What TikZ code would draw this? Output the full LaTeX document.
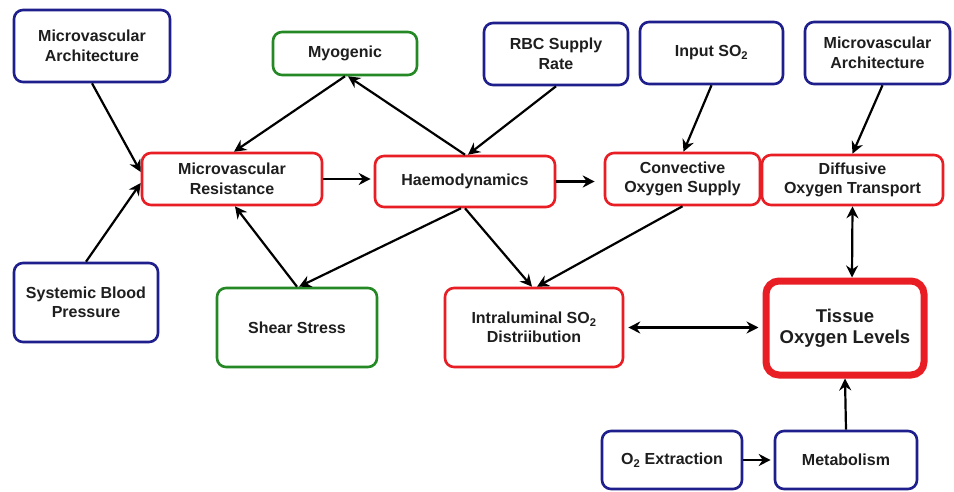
\documentclass[tikz,border=0pt]{standalone}
\usepackage{fontspec}
\setmainfont{Liberation Sans}
\usetikzlibrary{arrows.meta}
\definecolor{bnavy}{RGB}{30,30,140}
\definecolor{bgreen}{RGB}{36,136,36}
\definecolor{bred}{RGB}{232,30,36}
\definecolor{txt}{RGB}{30,30,30}
\tikzset{
  box/.style={draw, rounded corners=9pt, line width=2.6pt, fill=white, align=center,
    font=\bfseries\fontsize{16}{19.5}\selectfont, text=txt, inner sep=0pt},
  bluebox/.style={box, draw=bnavy},
  greenbox/.style={box, draw=bgreen},
  redbox/.style={box, draw=bred},
  bigbox/.style={box, draw=bred, line width=7pt, rounded corners=13pt,
    font=\bfseries\fontsize{18.5}{21}\selectfont},
  tip/.tip={Stealth[length=12pt,width=12pt,inset=4pt]},
  arr/.style={line width=2.2pt, draw=black, -tip},
  darr/.style={line width=2.2pt, draw=black, tip-tip},
}
\begin{document}
\begin{tikzpicture}[x=1pt,y=-1pt]
\useasboundingbox (0,0) rectangle (954,492);
\fill[white] (0,0) rectangle (954,492);

\node[bluebox, minimum width=156pt, minimum height=72pt] (mal) at (92,46) {Microvascular\\Architecture};
\node[greenbox, minimum width=144pt, minimum height=43pt] (myo) at (345,53.5) {Myogenic};
\node[redbox, minimum width=180pt, minimum height=52pt] (mr) at (232,179) {Microvascular\\Resistance};
\node[redbox, minimum width=180pt, minimum height=51pt] (hae) at (465,181.5) {Haemodynamics};
\node[bluebox, minimum width=144pt, minimum height=62pt] (rbc) at (556,54) {RBC Supply\\Rate};
\node[bluebox, minimum width=143pt, minimum height=62pt] (inp) at (711.5,53) {Input SO\textsubscript{2}};
\node[bluebox, minimum width=145pt, minimum height=62pt] (mar) at (877.5,53) {Microvascular\\Architecture};
\node[redbox, minimum width=155pt, minimum height=52pt] (conv) at (682.5,179) {Convective\\Oxygen Supply};
\node[redbox, minimum width=181pt, minimum height=50pt] (diff) at (852.5,180) {Diffusive\\Oxygen Transport};
\node[bluebox, minimum width=144pt, minimum height=79pt] (sbp) at (86,302.5) {Systemic Blood\\Pressure};
\node[greenbox, minimum width=160pt, minimum height=79pt] (shear) at (297,327.5) {Shear Stress};
\node[redbox, minimum width=178pt, minimum height=79pt] (intra) at (534,327.5) {Intraluminal SO\textsubscript{2}\\Distriibution};
\node[bigbox, minimum width=158pt, minimum height=94pt] (tissue) at (845,328) {Tissue\\Oxygen Levels};
\node[bluebox, minimum width=140pt, minimum height=58pt] (o2x) at (672,460) {O\textsubscript{2} Extraction};
\node[bluebox, minimum width=142pt, minimum height=58pt] (met) at (846,460) {Metabolism};

\draw[arr] (mal.south) -- ([yshift=7pt]mr.west);
\draw[arr] (sbp.north) -- ([yshift=-4pt]mr.west);
\draw[arr] (myo.south) -- ([xshift=2pt]mr.north);
\draw[arr] (hae.north) -- ([xshift=3pt]myo.south);
\draw[arr] (rbc.south) -- ([xshift=3pt]hae.north);
\draw[arr, shorten >=3pt] (mr.east) -- (mr.east -| hae.west);
\draw[arr, shorten >=9pt] (hae.east) -- (hae.east -| conv.west);
\draw[arr] (inp.south) -- ([xshift=1pt]conv.north);
\draw[arr] ([xshift=5pt]mar.south) -- (diff.north);
\draw[arr] (shear.north) -- ([xshift=3pt]mr.south);
\draw[arr] ([xshift=-4pt]hae.south) -- ([xshift=2pt]shear.north);
\draw[arr] (hae.south) -- ([xshift=-2pt]intra.north);
\draw[arr] (conv.south) -- ([xshift=3pt]intra.north);
\draw[darr] (diff.south) -- ([xshift=7pt]tissue.north);
\draw[darr, shorten <=4pt, shorten >=4pt] (intra.east) -- (intra.east -| tissue.west);
\draw[arr, shorten >=3pt] (o2x.east) -- (o2x.east -| met.west);
\draw[arr] (met.north) -- (tissue.south);
\end{tikzpicture}
\end{document}
